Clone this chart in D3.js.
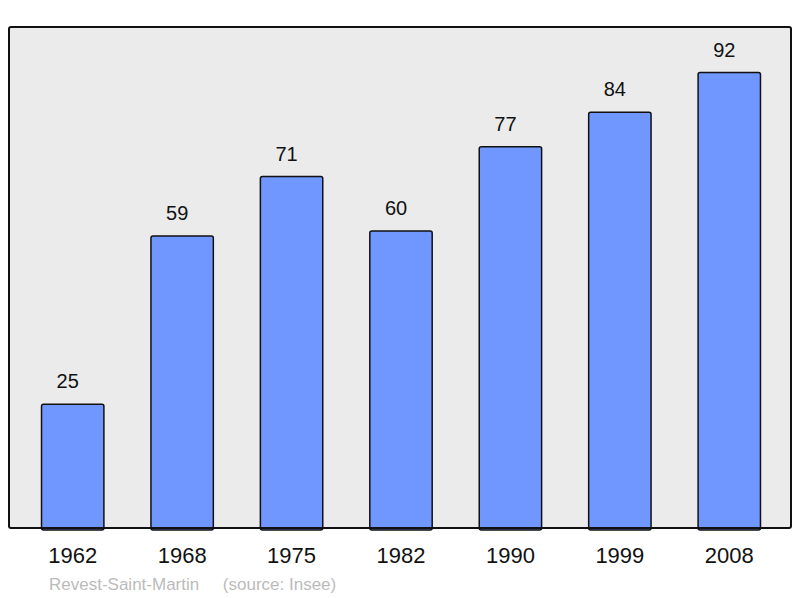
<!DOCTYPE html>
<html>
<head>
<meta charset="utf-8">
<script src="https://cdn.jsdelivr.net/npm/d3@7"></script>
<style>
  body { margin: 0; background: #fff; }
  text { font-family: "Liberation Sans", Arial, sans-serif; }
</style>
</head>
<body>
<div id="chart"></div>
<script>
// Population data
const years = ["1962", "1968", "1975", "1982", "1990", "1999", "2008"];
const population = [25, 59, 71, 60, 77, 84, 92];
const place = "Revest-Saint-Martin";
const source = "(source: Insee)";

const width = 800;
const height = 598;
const frame = { left: 9, top: 27, right: 791, bottom: 528 };

const svg = d3.select("#chart")
    .append("svg")
    .attr("width", width)
    .attr("height", height);

// Plot background
svg.append("rect")
    .attr("x", frame.left)
    .attr("y", frame.top)
    .attr("width", frame.right - frame.left)
    .attr("height", frame.bottom - frame.top)
    .attr("rx", 2)
    .attr("fill", "#ebebeb")
    .attr("stroke", "none");

const x = d3.scaleBand()
    .domain(years)
    .range([18, 784])
    .paddingInner(0.43)
    .paddingOuter(0.215);

const y = d3.scaleLinear()
    .domain([0, d3.max(population) * 1.1])
    .range([frame.bottom, frame.top]);

const data = years.map((yr, i) => ({ year: yr, value: population[i] }));

// Bars
svg.selectAll(".bar")
    .data(data)
    .enter()
    .append("rect")
    .attr("class", "bar")
    .attr("x", d => x(d.year))
    .attr("y", d => y(d.value))
    .attr("width", x.bandwidth())
    .attr("height", d => y(0) - y(d.value) + 2)
    .attr("rx", 2)
    .attr("fill", "#7097ff")
    .attr("stroke", "#111")
    .attr("stroke-width", 1.5);

// Value labels (sit slightly left of bar centre, as in the original)
svg.selectAll(".val")
    .data(data)
    .enter()
    .append("text")
    .attr("x", d => x(d.year) + x.bandwidth() / 2 - 5)
    .attr("y", d => y(d.value) - 16)
    .attr("text-anchor", "middle")
    .style("font-size", "20px")
    .attr("fill", "#111")
    .text(d => d.value);

// Frame border drawn on top
svg.append("rect")
    .attr("x", frame.left)
    .attr("y", frame.top)
    .attr("width", frame.right - frame.left)
    .attr("height", frame.bottom - frame.top)
    .attr("rx", 2)
    .attr("fill", "none")
    .attr("stroke", "#111")
    .attr("stroke-width", 2);

// Year axis labels
const xAxis = svg.append("g")
    .attr("transform", `translate(0, ${frame.bottom})`)
    .call(d3.axisBottom(x).tickSize(0).tickPadding(19));
xAxis.select(".domain").remove();
xAxis.selectAll("text")
    .style("font-size", "22px")
    .style("font-family", "Liberation Sans, Arial, sans-serif")
    .attr("fill", "#111");

// Footer
svg.append("text")
    .attr("x", 49)
    .attr("y", 590)
    .style("font-size", "17px")
    .attr("fill", "#bbbbbb")
    .attr("xml:space", "preserve")
    .text(place + "     " + source);
</script>
</body>
</html>
